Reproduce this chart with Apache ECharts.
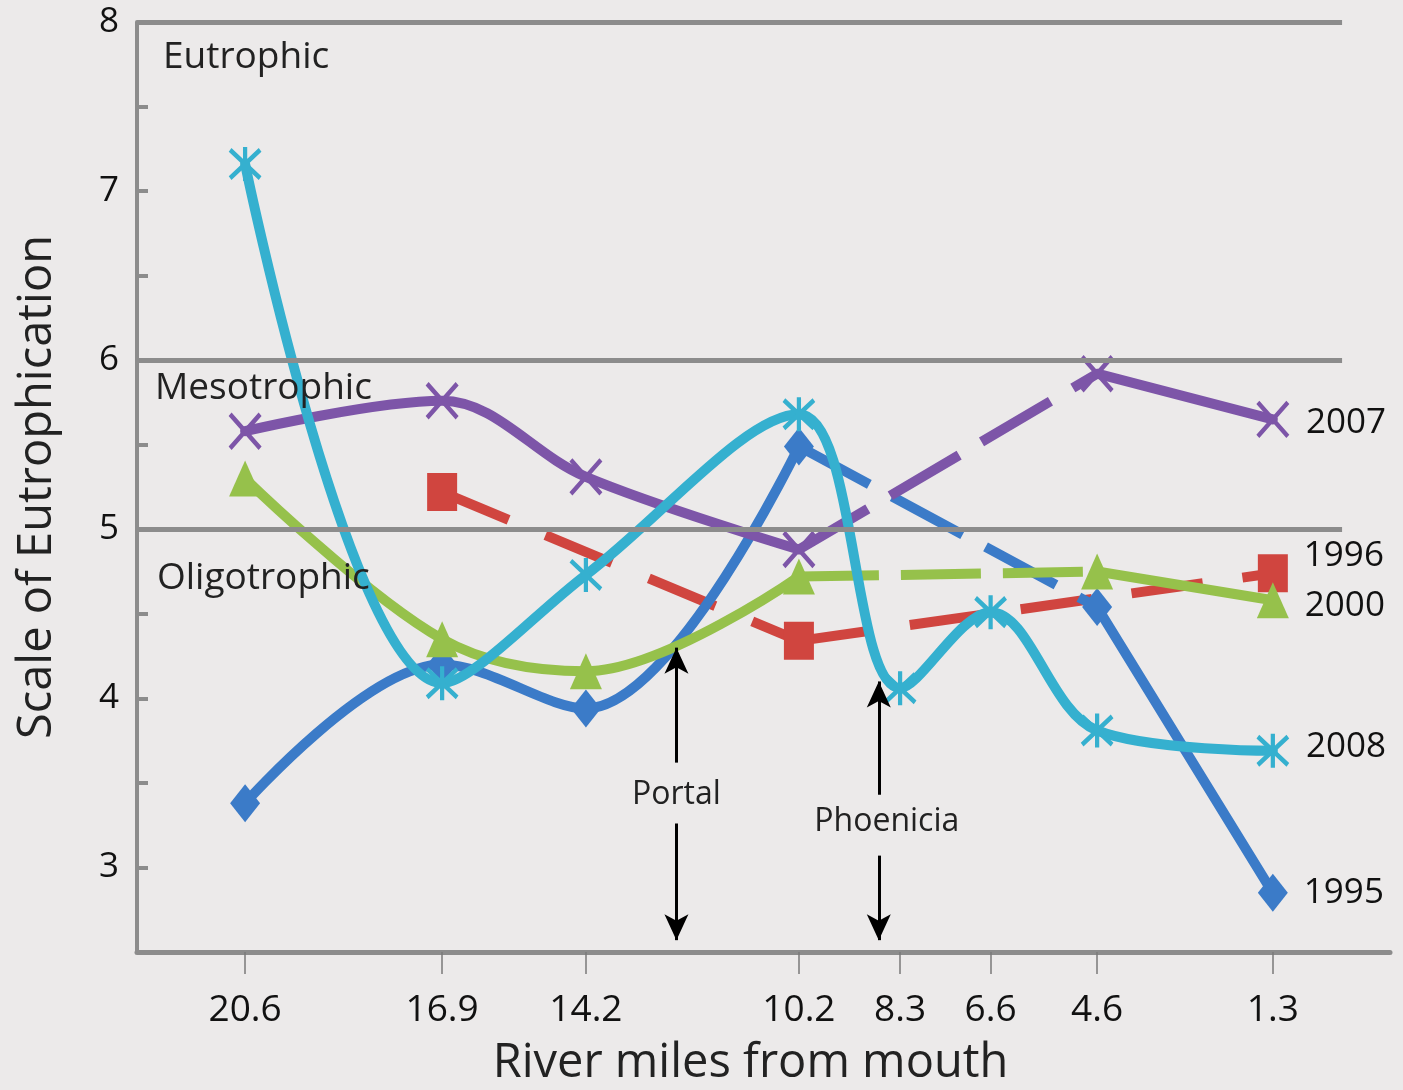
<!DOCTYPE html>
<html><head><meta charset="utf-8">
<script src="https://cdn.jsdelivr.net/npm/echarts@6/dist/echarts.min.js"></script>
<style>html,body{margin:0;padding:0;background:#ECEAEA;} #c{width:1403px;height:1090px;}</style>
</head><body><div id="c"></div>
<script>
// ---- data ----
const miles = [20.6, 16.9, 14.2, 10.2, 8.3, 6.6, 4.6, 1.3];
const tickLabels = ['20.6', '16.9', '14.2', '10.2', '8.3', '6.6', '4.6', '1.3'];
const y1995 = [3.38, 4.2, 3.94, 5.49, null, null, 4.54, 2.85];
const y1996 = [null, 5.22, null, 4.34, null, null, null, 4.74];
const y2000 = [5.30, 4.35, 4.16, 4.72, null, null, 4.75, 4.58];
const y2007 = [5.58, 5.76, 5.31, 4.88, null, null, 5.92, 5.65];
const y2008 = [7.16, 4.09, 4.73, 5.68, 4.06, 4.51, 3.81, 3.69];
const years = ['1996', '1995', '2000', '2007', '2008'];
const yearValues = [y1996, y1995, y2000, y2007, y2008];
const zoneLabels = ['Eutrophic', 'Mesotrophic', 'Oligotrophic'];
const zoneBoundaries = [8, 6, 5];
const landmarks = ['Portal', 'Phoenicia'];
const landmarkMiles = [12.5, 8.7];

// ---- styles ----
const FONT = '"Open Sans", "Noto Sans", sans-serif';
const X_PATH = 'path://M0,0L20,22M20,0L0,22';
const AST_PATH = 'path://M0,1L20,21M20,1L0,21M10,-1L10,23';
const styles = {
  '1995': {color: '#3B7BC8', symbol: 'diamond', size: [30, 38], stroke: false, offset: [0, 0]},
  '1996': {color: '#D0453F', symbol: 'rect', size: [30, 38], stroke: false, offset: [0, -17]},
  '2000': {color: '#96C14B', symbol: 'triangle', size: [32, 36], stroke: false, offset: [0, 6]},
  '2007': {color: '#7D55A8', symbol: X_PATH, size: [30, 34], stroke: true, offset: [0, 4]},
  '2008': {color: '#35B0CF', symbol: AST_PATH, size: [30, 34], stroke: true, offset: [0, -4]}
};
const dashes = {'1995': [80, 26], '1996': [72, 40], '2000': [80, 22], '2007': [80, 26], '2008': [80, 26]};

const series = [];
years.forEach((yr, k) => {
  const vals = yearValues[k];
  const st = styles[yr];
  // consecutive runs of measured points -> solid smooth lines; gaps -> dashed straight lines
  const runs = [];
  let cur = null;
  vals.forEach((v, i) => {
    if (v === null) { cur = null; return; }
    if (!cur) { cur = []; runs.push(cur); }
    cur.push([miles[i], v]);
  });
  const itemStyle = st.stroke
    ? {color: 'rgba(0,0,0,0)', borderColor: st.color, borderWidth: 4.5, opacity: 1}
    : {color: st.color, borderWidth: 0};
  for (let r = 0; r < runs.length - 1; r++) {
    series.push({
      type: 'line', name: yr + ' dashed', z: 2,
      data: [runs[r][runs[r].length - 1], runs[r + 1][0]],
      showSymbol: false, symbol: 'none', silent: true,
      lineStyle: {color: st.color, width: 10, type: dashes[yr], cap: 'butt'}
    });
  }
  runs.forEach((run, r) => {
    const isLast = r === runs.length - 1;
    const data = run.map((p, j) => {
      const d = {value: p};
      if (isLast && j === run.length - 1) {
        d.label = {
          show: true, formatter: yr, position: 'right', distance: 16,
          offset: st.offset, color: '#111', fontSize: 35, fontFamily: FONT
        };
      }
      return d;
    });
    series.push({
      type: 'line', name: yr, z: 3,
      data: data, smooth: 0.35, showSymbol: true, showAllSymbol: true,
      symbol: st.symbol, symbolSize: st.size, silent: true,
      itemStyle: itemStyle,
      lineStyle: {color: st.color, width: 10, cap: 'round', join: 'round'},
      label: {show: false}
    });
  });
});

// zone boundary lines
series.push({
  type: 'line', data: [], z: 1, silent: true,
  markLine: {
    silent: true, symbol: 'none', animation: false,
    label: {show: false},
    lineStyle: {color: '#8C8C8C', width: 5, type: 'solid'},
    data: zoneBoundaries.map(b => [{coord: [22.63, b]}, {coord: [0, b]}])
  }
});

// landmark arrows
const arrowTop = [4.30, 4.10];
const arrowUpTail = [3.62, 3.43];
const arrowDownTail = [3.26, 3.07];
const arrowBottom = 2.57;
const arrowLines = [];
landmarkMiles.forEach((m, i) => {
  arrowLines.push([{coord: [m, arrowUpTail[i]]}, {coord: [m, arrowTop[i]]}]);
  arrowLines.push([{coord: [m, arrowDownTail[i]]}, {coord: [m, arrowBottom]}]);
});
const labelY = [3.43, 3.27];
const labelMiles = [12.5, 8.55];
series.push({
  type: 'line', data: [], z: 5, silent: true,
  markLine: {
    silent: true, symbol: ['none', 'arrow'], symbolSize: [18, 26], animation: false,
    label: {show: false},
    lineStyle: {color: '#000', width: 3, type: 'solid'},
    emphasis: {disabled: true},
    data: arrowLines
  },
  markPoint: {
    silent: true, symbol: 'circle', symbolSize: 1, animation: false,
    itemStyle: {color: 'rgba(0,0,0,0)'},
    label: {show: true, position: 'inside', formatter: '{b}', color: '#222', fontSize: 32, fontFamily: FONT},
    data: landmarks.map((n, i) => ({name: n, coord: [labelMiles[i], labelY[i]]}))
  }
});

const chart = echarts.init(document.getElementById('c'), null, {renderer: 'canvas'});
chart.setOption({
  backgroundColor: '#ECEAEA',
  animation: false,
  grid: {left: 137, right: 13, top: 22, bottom: 138, containLabel: false, outerBoundsMode: 'none'},
  xAxis: {
    type: 'value', inverse: true, min: -0.9, max: 22.63,
    name: 'River miles from mouth', nameLocation: 'middle', nameGap: 88,
    nameTextStyle: {fontSize: 47, color: '#222', fontFamily: FONT, padding: [0, 26, 0, 0]},
    splitLine: {show: false},
    axisLine: {show: true, onZero: false, lineStyle: {color: '#8C8C8C', width: 5}},
    axisTick: {show: true, customValues: miles, length: 22, lineStyle: {color: '#7A7A7A', width: 1.5}},
    axisLabel: {
      customValues: miles, margin: 40, fontSize: 37, color: '#111', fontFamily: FONT,
      formatter: v => { const i = miles.indexOf(v); return i >= 0 ? tickLabels[i] : ''; }
    }
  },
  yAxis: {
    type: 'value', min: 2.5, max: 8, interval: 0.5,
    name: 'Scale of Eutrophication', nameLocation: 'middle', nameGap: 76, nameRotate: 90,
    nameTextStyle: {fontSize: 47, color: '#222', fontFamily: FONT},
    splitLine: {show: false},
    axisLine: {show: true, onZero: false, lineStyle: {color: '#8C8C8C', width: 4}},
    axisTick: {show: true, inside: true, length: 11, lineStyle: {color: '#8C8C8C', width: 4}},
    axisLabel: {
      margin: 18, fontSize: 35, color: '#111', fontFamily: FONT,
      formatter: v => (Math.abs(v - Math.round(v)) < 1e-9 ? String(Math.round(v)) : '')
    }
  },
  graphic: [
    {type: 'text', x: 163, y: 57, z: 10, style: {text: zoneLabels[0], fontSize: 37, fontFamily: FONT, fill: '#222', verticalAlign: 'middle'}},
    {type: 'text', x: 155, y: 388, z: 10, style: {text: zoneLabels[1], fontSize: 37, fontFamily: FONT, fill: '#222', verticalAlign: 'middle'}},
    {type: 'text', x: 157, y: 578, z: 10, style: {text: zoneLabels[2], fontSize: 37, fontFamily: FONT, fill: '#222', verticalAlign: 'middle'}}
  ],
  series: series
});
</script></body></html>
